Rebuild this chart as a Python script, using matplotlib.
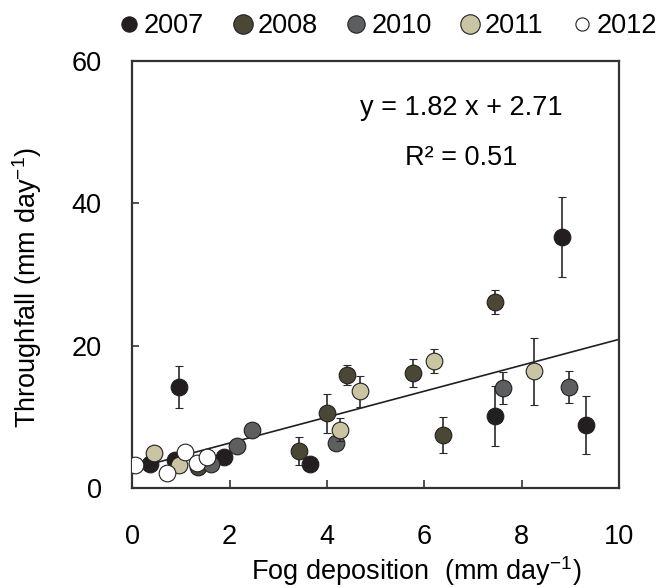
import matplotlib
matplotlib.use("Agg")
import matplotlib.pyplot as plt
from matplotlib.lines import Line2D
import numpy as np

plt.rcParams['font.family'] = ['Liberation Sans', 'DejaVu Sans']
plt.rcParams['mathtext.fontset'] = 'custom'
plt.rcParams['mathtext.rm'] = 'Liberation Sans'
plt.rcParams['mathtext.it'] = 'Liberation Sans:italic'

# ---- data ----
years = ['2007', '2008', '2010', '2011', '2012']

x_2007 = [0.36, 0.88, 0.97, 1.88, 3.65, 7.45, 8.82, 9.33]
y_2007 = [3.4, 4.0, 14.2, 4.35, 3.4, 10.15, 35.25, 8.9]
e_2007 = [0, 0, 2.9, 0, 0, 4.2, 5.6, 4.1]

x_2008 = [1.36, 3.43, 4.01, 4.41, 5.77, 6.38, 7.46]
y_2008 = [3.0, 5.25, 10.5, 15.9, 16.15, 7.5, 26.2]
e_2008 = [1.0, 2.0, 2.7, 1.4, 1.95, 2.5, 1.7]

x_2010 = [1.62, 2.15, 2.45, 4.19, 7.62, 8.98]
y_2010 = [3.4, 5.95, 8.2, 6.3, 14.1, 14.2]
e_2010 = [0, 0, 0, 0.8, 2.2, 2.25]

x_2011 = [0.45, 0.96, 4.26, 4.68, 6.19, 8.25]
y_2011 = [4.9, 3.3, 8.2, 13.6, 17.9, 16.4]
e_2011 = [0, 0, 1.6, 2.2, 1.7, 4.7]

x_2012 = [0.06, 0.72, 1.09, 1.33, 1.54]
y_2012 = [3.2, 2.1, 5.05, 3.5, 4.35]
e_2012 = [0, 0, 0, 0, 0]

slope, intercept, r2 = 1.82, 2.71, 0.51

x_ticks = [0, 2, 4, 6, 8, 10]
y_ticks = [0, 20, 40, 60]

colors = ['#231f20', '#4a4735', '#5d5e60', '#c9c4a1', '#ffffff']
legend_sizes = [11, 14, 12.5, 14, 9.5]

series = [(x_2007, y_2007, e_2007), (x_2008, y_2008, e_2008),
          (x_2010, y_2010, e_2010), (x_2011, y_2011, e_2011),
          (x_2012, y_2012, e_2012)]

# ---- figure ----
fig = plt.figure(figsize=(6.62, 5.88), dpi=100)
ax = fig.add_axes([0.1998, 0.1696, 0.7352, 0.7267])

edge = '#231f20'
xl = np.array([0.0, 10.0])
ax.plot(xl, slope * xl + intercept, color='#231f20', lw=1.2, zorder=2)

for i, (xs, ys, es) in enumerate(series):
    ax.errorbar(xs, ys, yerr=es, fmt='o', ms=12, mfc=colors[i], mec=edge,
                mew=0.8, ecolor='#2a2a2a', elinewidth=1.2, capsize=3.2,
                capthick=1.2, zorder=3 + i)

ax.set_xlim(0, 10)
ax.set_ylim(0, 60)
ax.set_xticks(x_ticks)
ax.set_yticks(y_ticks)
ax.tick_params(direction='in', length=6, width=1.2, labelsize=19.5,
               color='#333333', pad=22)
ax.tick_params(axis='x', pad=26)
ax.tick_params(axis='y', length=5)
for s in ax.spines.values():
    s.set_linewidth(1.6)
    s.set_color('#333333')

ax.set_xlabel('Fog deposition  (mm day$^{-1}$)', fontsize=19.5, va='center')
ax.xaxis.set_label_coords(0.583, -0.193)
ax.set_ylabel('Throughfall (mm day$^{-1}$)', fontsize=19.5, va='center')
ax.yaxis.set_label_coords(-0.216, 0.469)

ax.text(6.77, 53.4, f'y = {slope:.2f} x + {intercept:.2f}', fontsize=19.5,
        ha='center', va='center')
ax.text(6.76, 46.4, f'R\u00b2 = {r2:.2f}', fontsize=19.5,
        ha='center', va='center')

handles = [Line2D([], [], ls='none', marker='o', ms=legend_sizes[i],
                  mfc=colors[i], mec=edge, mew=0.8) for i in range(5)]
fig.legend(handles, years, loc='center', bbox_to_anchor=(0.588, 0.955),
           ncol=5, frameon=False, fontsize=19.5, handlelength=0.6,
           handletextpad=0.25, columnspacing=1.12, borderaxespad=0)

fig.savefig('out.png', dpi=100)
